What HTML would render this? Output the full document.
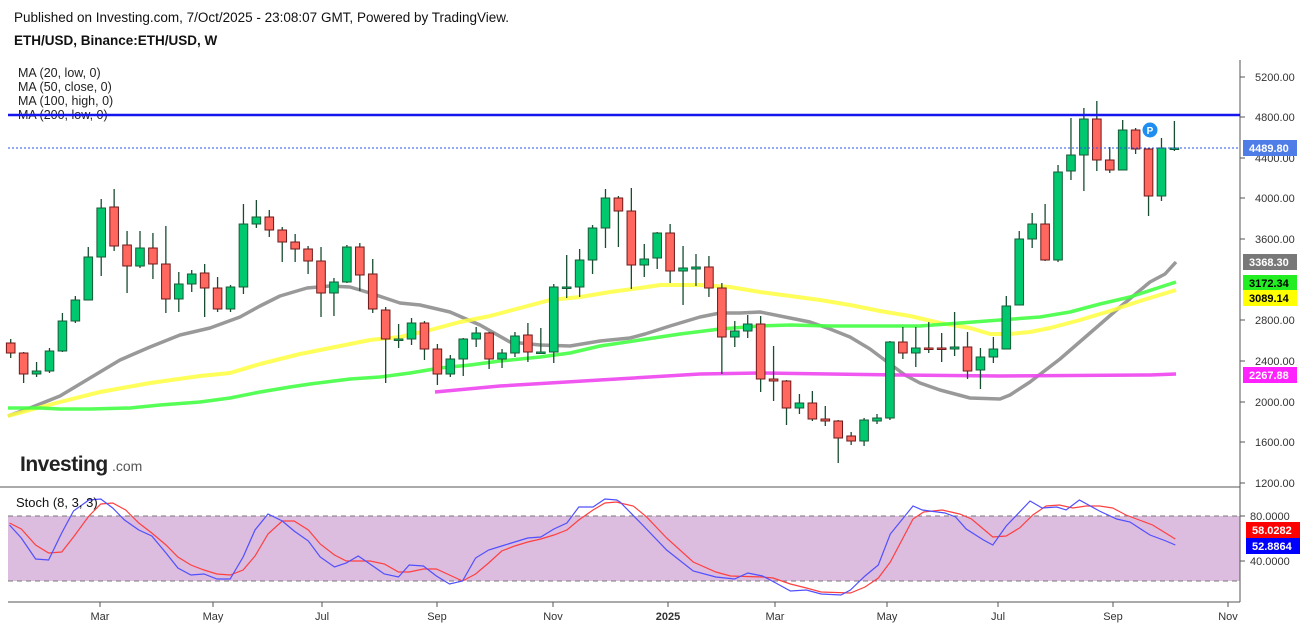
<!DOCTYPE html>
<html><head><meta charset="utf-8"><style>
html,body{margin:0;padding:0;background:#fff;width:1316px;height:626px;overflow:hidden;font-family:"Liberation Sans",sans-serif}
</style></head><body>
<svg id="s" width="1316" height="626" xmlns="http://www.w3.org/2000/svg" font-family="Liberation Sans, sans-serif">
<text x="14" y="22" font-size="13.5" fill="#111">Published on Investing.com, 7/Oct/2025 - 23:08:07 GMT, Powered by TradingView.</text>
<text x="14" y="45" font-size="13.5" font-weight="bold" fill="#111">ETH/USD, Binance:ETH/USD, W</text>
<g font-size="12.5" fill="#222">
<text x="18" y="77">MA (20, low, 0)</text>
<text x="18" y="91">MA (50, close, 0)</text>
<text x="18" y="105">MA (100, high, 0)</text>
<text x="18" y="119">MA (200, low, 0)</text>
</g>
<rect x="8" y="516" width="1232" height="65" fill="#dcbcdf"/>
<line x1="8" y1="516" x2="1240" y2="516" stroke="#777" stroke-dasharray="5,4"/>
<line x1="8" y1="581" x2="1240" y2="581" stroke="#777" stroke-dasharray="5,4"/>
<line x1="0" y1="487" x2="1240" y2="487" stroke="#555" stroke-width="1"/>
<line x1="8" y1="602" x2="1240" y2="602" stroke="#555" stroke-width="1"/>
<line x1="1240" y1="60" x2="1240" y2="602" stroke="#555" stroke-width="1"/>
<g id="ma" fill="none" stroke-linejoin="round"></g>
<g id="c"></g>
<line x1="8" y1="115" x2="1240" y2="115" stroke="#1515ee" stroke-width="2.5"/>
<line x1="8" y1="148" x2="1240" y2="148" stroke="#2950f0" stroke-width="1" stroke-dasharray="2,2"/>
<circle cx="1150" cy="130" r="7.5" fill="#1e8ff0"/>
<text x="1150" y="134" font-size="10" font-weight="bold" fill="#fff" text-anchor="middle">P</text>
<g id="st" fill="none" stroke-width="1.2"></g>
<text x="16" y="507" font-size="13" fill="#111">Stoch (8, 3, 3)</text>
<text x="20" y="471" font-size="21" font-weight="bold" fill="#222" letter-spacing="-0.5">Investing</text>
<text x="112" y="471" font-size="14" fill="#555">.com</text>
<g id="ax" font-size="11" fill="#333"></g>
</svg>
<script>
var NS="http://www.w3.org/2000/svg";
function el(p,t,a,txt){var e=document.createElementNS(NS,t);for(var k in a)e.setAttribute(k,a[k]);if(txt!==undefined)e.textContent=txt;document.getElementById(p).appendChild(e);return e;}
var C=[
['r',343,353,339,358],['r',353,374,352,383],['g',371,374,362,377],['g',351,371,348,373],['g',321,351,313,352],
['g',300,321,296,323],['g',257,300,247,300],['g',208,257,199,276],['r',207,246,189,251],['r',245,266,231,293],
['g',248,266,231,268],['r',248,264,233,279],['r',264,299,226,313],['g',284,299,272,312],['g',274,284,270,292],
['r',273,288,264,317],['r',288,309,277,312],['g',287,309,285,312],['g',224,287,204,294],['g',217,224,200,228],
['r',217,230,210,237],['r',230,242,227,262],['r',242,249,234,262],['r',249,261,246,274],['r',261,293,247,317],
['g',282,293,278,316],['g',247,282,245,283],['r',247,275,243,291],['r',274,309,259,313],['r',310,339,307,383],
['g',339,340,324,348],['g',323,339,318,345],['r',323,349,321,360],['r',349,374,344,385],['g',359,374,355,377],
['g',339,359,338,376],['g',333,339,327,347],['r',333,359,332,369],['g',353,359,349,368],['g',336,353,332,357],
['r',335,352,323,362],['g',352,353,328,353],['g',287,352,284,363],['g',287,288,255,298],['g',260,287,249,297],
['g',228,260,225,274],['g',198,228,189,248],['r',198,211,196,247],['r',211,265,188,289],['g',259,265,244,277],
['g',233,258,232,269],['r',233,271,224,283],['g',268,271,246,305],['g',267,269,254,286],['r',267,288,256,297],
['r',288,337,283,374],['g',331,337,321,347],['g',324,331,315,338],['r',324,379,316,392],['r',379,381,346,401],
['r',381,408,380,425],['g',403,408,394,414],['r',403,419,391,421],['r',419,421,406,426],['r',421,438,420,463],
['r',436,441,432,445],['g',420,441,418,446],['g',418,421,414,424],['g',342,418,341,420],['r',342,353,327,359],
['g',348,353,327,367],['r',348,349,322,353],['r',348,349,333,362],['g',347,349,312,356],['r',347,371,332,379],
['g',357,370,348,389],['g',349,357,337,363],['g',306,349,296,349],['g',239,305,231,305],['g',224,239,213,248],
['r',224,260,204,261],['g',172,260,165,262],['g',155,171,118,180],['g',119,155,108,191],['r',119,160,101,171],
['r',160,170,147,173],['g',130,170,120,170],['r',130,149,128,154],['r',149,196,148,216],['g',148,196,138,201],
['g',148,149,121,151]];
C.forEach(function(c,i){var x=10.7+12.93*i;
 el('c','line',{x1:x,x2:x,y1:c[3],y2:c[4],stroke:'#174d30','stroke-width':1.3});
 var h=Math.max(c[2]-c[1],1.5);
 el('c','rect',{x:x-4.3,y:c[1],width:8.6,height:h,fill:c[0]=='g'?'#00c86e':'#ff675f',stroke:c[0]=='g'?'#1a5a38':'#6e1a1a','stroke-width':1});
});
function pl(p,pts,col,w,op){el(p,'polyline',{points:pts,stroke:col,'stroke-width':w,'stroke-opacity':op||1});}
pl('ma',"8,416 30,408 60,396 90,378 120,360 150,347 180,335 210,328 240,317 260,306 280,296 307,288 330,286 350,287 370,293 400,303 420,305 450,312 480,325 510,342 540,345 570,346 600,341 630,338 645,334 670,326 700,317 720,313 740,313 760,312 790,318 810,322 830,329 850,337 870,349 890,364 905,375 920,383 940,390 970,398 1000,399 1010,395 1030,382 1060,359 1090,333 1120,307 1150,282 1165,274 1176,262",'#999',3.5);
pl('ma',"8,416 30,410 60,402 100,392 150,383 200,376 230,373 260,364 300,354 330,348 370,340 400,337 430,330 460,322 490,316 520,308 550,300 580,297 610,292 640,288 660,285 700,285 730,287 760,292 790,296 820,300 850,305 880,311 910,316 940,323 970,328 990,334 1010,334 1030,332 1050,328 1080,320 1110,311 1140,301 1176,290",'#ffff40',4,0.85);
pl('ma',"8,408 40,408 60,409 90,409 130,408 160,405 200,402 230,398 260,392 290,387 310,384 350,379 380,377 410,373 440,368 470,365 500,361 540,357 570,353 600,346 640,340 680,334 720,329 760,326 790,325 830,326 880,326 920,326 960,323 1000,320 1040,317 1070,312 1100,304 1130,297 1176,282",'#44ff44',3.5,0.9);
pl('ma',"435,392 500,386 600,380 700,374 760,373 830,374 900,375 1000,376 1150,375 1176,374",'#ee44ee',3.5,0.9);
var b1="8,525 18,538 30,559 41,560 52,533 62,511 75,500 85,499 95,508 105,520 117,530 128,536 140,553 150,568 161,575 172,574 183,579 194,579 205,557 215,530 226,514 238,521 248,531 260,541 270,557 282,567 292,563 302,556 312,564 324,574 336,577 345,565 357,566 368,576 379,584 390,581 401,558 412,550 423,546 434,542 445,538 456,537 467,529 478,523 488,507 500,507 510,499 520,500 620,502 637,525 655,550 675,571 692,577 706,579 716,573 727,576 737,583 748,591 760,590 771,594 786,595 793,590 804,576 814,565 823,534 840,506 847,510 864,513 872,517 880,529 893,540 900,545 910,526 928,501 937,508 948,507 955,510 965,500 980,511 993,519 1003,522 1018,535 1030,541 1037,545";
var r1="8,523 18,529 30,545 41,553 52,552 62,537 75,516 85,504 95,503 106,510 117,523 128,533 140,545 150,557 161,565 172,570 183,574 194,575 205,570 215,556 226,534 238,521 248,521 260,530 270,544 282,555 292,561 302,561 312,561 324,564 336,572 345,572 357,569 368,569 379,575 390,581 401,574 412,563 423,551 434,546 445,542 456,539 467,535 478,530 488,520 500,510 510,503 520,502 620,503 630,506 640,517 655,538 675,562 692,572 703,576 727,577 735,578 748,584 760,588 771,592 793,593 804,587 814,578 823,562 840,519 848,512 862,510 875,514 884,519 900,537 910,536 920,528 930,515 940,506 950,505 960,508 970,506 980,506 990,508 1000,515 1010,520 1020,525 1037,539";
function fx(s){return s.split(' ').map(function(p){var a=p.split(',');var x=+a[0];
 if(x<=520)x=x*1.186;else x=620+(x-620)*1.3316;return x.toFixed(1)+','+a[1];}).join(' ');}
el('st','polyline',{points:fx(r1),stroke:'#ff4040','stroke-width':1.2});
el('st','polyline',{points:fx(b1),stroke:'#5050ff','stroke-width':1.2});
var P=[[5200,77],[4800,117],[4400,158],[4000,198],[3600,239],[2800,320],[2400,361],[2000,402],[1600,442],[1200,483]];
P.forEach(function(p){el('ax','line',{x1:1240,x2:1245,y1:p[1],y2:p[1],stroke:'#555'});el('ax','text',{x:1255,y:p[1]+4},p[0].toFixed(2));});
[[80,516],[40,561]].forEach(function(p){el('ax','line',{x1:1240,x2:1245,y1:p[1],y2:p[1],stroke:'#555'});el('ax','text',{x:1250,y:p[1]+4},p[0].toFixed(4));});
function tag(y,txt,bg,fg,x){el('ax','rect',{x:x||1243,y:y-8,width:54,height:16,fill:bg});el('ax','text',{x:(x||1243)+6,y:y+4,fill:fg,'font-weight':'bold'},txt);}
tag(148,'4489.80','#4f7de8','#fff');tag(262,'3368.30','#787878','#fff');tag(283,'3172.34','#22ee22','#000');tag(298,'3089.14','#ffff00','#000');tag(375,'2267.88','#ff22ff','#fff');
tag(530,'58.0282','#ff0000','#fff',1246);tag(546,'52.8864','#0000ff','#fff',1246);
var X=[['Mar',100],['May',213],['Jul',322],['Sep',437],['Nov',553],['2025',668],['Mar',775],['May',887],['Jul',998],['Sep',1113],['Nov',1228]];
X.forEach(function(t){el('ax','line',{x1:t[1],x2:t[1],y1:602,y2:607,stroke:'#555'});el('ax','text',{x:t[1],y:620,'text-anchor':'middle','font-weight':t[0]=='2025'?'bold':'normal'},t[0]);});
</script>
</body></html>
